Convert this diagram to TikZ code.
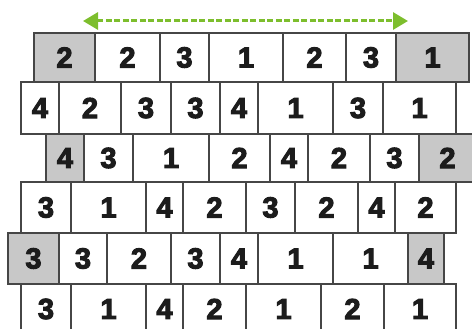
\documentclass[tikz,border=0pt]{standalone}
\usepackage{fontspec}
\newfontfamily\digitfont{Liberation Sans Bold}[FakeBold=3.5]
\usetikzlibrary{arrows.meta}
\definecolor{brickline}{RGB}{70,70,70}
\definecolor{brickgray}{RGB}{200,200,200}
\definecolor{arrowgreen}{RGB}{125,190,45}
\definecolor{digitcol}{RGB}{28,28,28}
\tikzset{
  brick/.style={draw=brickline, line width=1.8pt, inner sep=0pt, outer sep=0pt,
    font=\digitfont\fontsize{29}{29}\selectfont, text=digitcol},
  flowarrow/.style={draw=arrowgreen, line width=3pt, dash pattern=on 6pt off 2.5pt,
    {Triangle[length=15pt,width=17pt,fill=arrowgreen]}-{Triangle[length=15pt,width=17pt,fill=arrowgreen]}}
}
\begin{document}
\begin{tikzpicture}[x=1pt,y=-1pt]
\useasboundingbox (0,0) rectangle (472,329);
\clip (0,0) rectangle (472,329);
\foreach \t/\b/\row [count=\i] in {
  33/82/{34/95/2/brickgray, 95/160/2/white, 160/209/3/white, 209/283/1/white, 283/346/2/white, 346/396/3/white, 396/469/1/brickgray},
  82/134/{21/59/4/white, 59/121/2/white, 121/171/3/white, 171/220/3/white, 220/258/4/white, 258/333/1/white, 333/383/3/white, 383/456/1/white},
  134/182/{46/84/4/brickgray, 84/133/3/white, 133/209/1/white, 209/270/2/white, 270/308/4/white, 308/370/2/white, 370/419/3/white, 419/476/2/brickgray},
  182/233/{21/71/3/white, 71/146/1/white, 146/183/4/white, 183/246/2/white, 246/295/3/white, 295/358/2/white, 358/395/4/white, 395/456/2/white},
  233/284/{8/59/3/brickgray, 59/107/3/white, 107/171/2/white, 171/220/3/white, 220/258/4/white, 258/333/1/white, 333/408/1/white, 408/444/4/brickgray},
  284/334/{21/71/3/white, 71/146/1/white, 146/183/4/white, 183/246/2/white, 246/321/1/white, 321/384/2/white, 384/456/1/white}}{
  \foreach \xa/\xb/\lab/\fc [count=\j] in \row {
    \node[brick, fill=\fc, minimum width={(\xb-\xa)*1pt}, minimum height={(\b-\t)*1pt}]
      (r\i-\j) at ({(\xa+\xb)/2},{(\t+\b)/2}) {\lab};
  }
}
\coordinate (aleft) at (83,21);
\coordinate (aright) at (408,21);
\draw[flowarrow] (aleft) -- (aright);
\end{tikzpicture}
\end{document}
